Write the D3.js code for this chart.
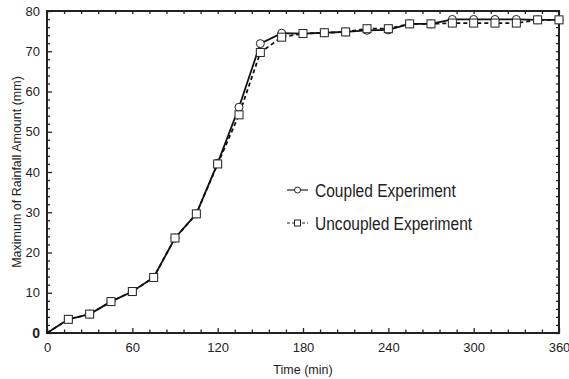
<!DOCTYPE html>
<html>
<head>
<meta charset="utf-8">
<script src="https://cdn.jsdelivr.net/npm/d3@7"></script>
<style>
  body { margin: 0; background: #fff; }
  .tick text { font-family: Arial, "Liberation Sans", sans-serif; font-size: 13px; fill: #222; }
  .label { font-family: Arial, "Liberation Sans", sans-serif; font-size: 12.5px; fill: #222; }
  .legend text { font-family: Arial, "Liberation Sans", sans-serif; font-size: 18.5px; fill: #222; }
</style>
</head>
<body>
<div class="plot"></div>
<script>
// time in minutes
let times = [0, 15, 30, 45, 60, 75, 90, 105, 120, 135, 150, 165, 180, 195, 210, 225, 240, 255, 270, 285, 300, 315, 330, 345, 360]
// maximum of rainfall amount (mm)
let coupled = [0, 3.4, 4.7, 7.8, 10.3, 13.8, 23.6, 29.6, 42.2, 56.1, 71.9, 74.5, 74.4, 74.6, 74.8, 75.2, 75.3, 76.8, 76.8, 77.9, 77.9, 77.9, 77.9, 77.8, 77.8]
let uncoupled = [0, 3.4, 4.7, 7.8, 10.3, 13.8, 23.6, 29.6, 42.0, 54.2, 69.7, 73.5, 74.4, 74.6, 74.8, 75.6, 75.6, 76.8, 76.8, 77.0, 77.0, 77.0, 77.0, 77.8, 77.8]
let xTicks = [0, 60, 120, 180, 240, 300, 360]
let yTicks = [0, 10, 20, 30, 40, 50, 60, 70, 80]
let seriesNames = ["Coupled Experiment", "Uncoupled Experiment"]

let width = 569, height = 379
let margin = {top: 11, right: 10, bottom: 46, left: 47}

let svg = d3.select(".plot")
            .append("svg")
            .attr("width", width)
            .attr("height", height)

let xScale = d3.scaleLinear()
      .domain([0, 360])
      .range([margin.left, width - margin.right])
let yScale = d3.scaleLinear()
      .domain([0, 80])
      .range([height - margin.bottom, margin.top])

let x0 = xScale(0), x1 = xScale(360), y0 = yScale(0), y1 = yScale(80)
let minorX = d3.range(0, 361, 12).filter(d => d % 60 != 0)
let minorY = d3.range(0, 81, 2).filter(d => d % 10 != 0)

// axes, all ticks pointing inward
function drawAxis(axis, tr, cls){
  svg.append("g")
     .attr("class", cls)
     .attr("transform", tr)
     .call(axis)
     .call(g => g.select(".domain").remove())
     .call(g => g.selectAll(".tick line").attr("stroke", "#222").attr("stroke-width", 1.3))
}
// bottom
drawAxis(d3.axisBottom(xScale).tickValues(xTicks).tickSizeInner(-5).tickSizeOuter(0).tickPadding(10).tickFormat(d3.format("d")), "translate(0," + y0 + ")", "xaxis")
drawAxis(d3.axisBottom(xScale).tickValues(minorX).tickSizeInner(-3.5).tickSizeOuter(0).tickFormat(""), "translate(0," + y0 + ")", "xminor")
// top
drawAxis(d3.axisTop(xScale).tickValues(d3.range(0, 361, 12)).tickSizeInner(-3).tickSizeOuter(0).tickFormat(""), "translate(0," + y1 + ")", "xtop")
// left
drawAxis(d3.axisLeft(yScale).tickValues(yTicks).tickSizeInner(-5).tickSizeOuter(0).tickPadding(7), "translate(" + x0 + ",0)", "yaxis")
drawAxis(d3.axisLeft(yScale).tickValues(minorY).tickSizeInner(-3).tickSizeOuter(0).tickFormat(""), "translate(" + x0 + ",0)", "yminor")
// right
drawAxis(d3.axisRight(yScale).tickValues(d3.range(0, 81, 2)).tickSizeInner(-3).tickSizeOuter(0).tickFormat(""), "translate(" + x1 + ",0)", "yright")

svg.selectAll(".yaxis .tick text")
   .filter(d => d == 0)
   .style("font-weight", "bold")
   .style("font-size", "14px")

// frame
svg.append("rect")
   .attr("x", x0)
   .attr("y", y1)
   .attr("width", x1 - x0)
   .attr("height", y0 - y1)
   .attr("fill", "none")
   .attr("stroke", "#222")
   .attr("stroke-width", 2)

// axis titles
svg.append("text")
   .attr("class", "label")
   .attr("x", (x0 + x1) / 2)
   .attr("y", 374)
   .style("text-anchor", "middle")
   .text("Time (min)")
svg.append("text")
   .attr("class", "label")
   .attr("transform", "translate(21," + ((y0 + y1) / 2) + ") rotate(-90)")
   .style("text-anchor", "middle")
   .text("Maximum of Rainfall Amount (mm)")

// lines
let data = [
  {name: seriesNames[0], values: times.map((t, i) => ({t: t, v: coupled[i]})), dash: null, shape: "circle"},
  {name: seriesNames[1], values: times.map((t, i) => ({t: t, v: uncoupled[i]})), dash: "4,3", shape: "square"}
]
let line = d3.line()
      .x(d => xScale(d.t))
      .y(d => yScale(d.v))

data.forEach(function(s){
  svg.append("path")
     .datum(s.values)
     .attr("d", line)
     .attr("fill", "none")
     .attr("stroke", "#111")
     .attr("stroke-width", 1.8)
     .attr("stroke-dasharray", s.dash)
})
data.forEach(function(s){
  let pts = s.values.filter(d => d.t > 0)
  if(s.shape == "circle"){
    svg.selectAll(".pc")
       .data(pts)
       .enter()
       .append("circle")
       .attr("cx", d => xScale(d.t))
       .attr("cy", d => yScale(d.v))
       .attr("r", 4)
       .attr("fill", "#fff")
       .attr("stroke", "#222")
       .attr("stroke-width", 1)
  } else {
    svg.selectAll(".ps")
       .data(pts)
       .enter()
       .append("rect")
       .attr("x", d => xScale(d.t) - 4)
       .attr("y", d => yScale(d.v) - 4)
       .attr("width", 8)
       .attr("height", 8)
       .attr("fill", "#fff")
       .attr("stroke", "#222")
       .attr("stroke-width", 1)
  }
})

// legend
let legend = svg.selectAll(".legend")
      .data(data)
      .enter()
      .append("g")
      .attr("class", "legend")
      .attr("transform", (d, i) => "translate(287," + (190 + i * 33) + ")")
legend.append("line")
      .attr("x1", 0)
      .attr("x2", 21)
      .attr("stroke", "#222")
      .attr("stroke-width", 1.2)
      .attr("stroke-dasharray", d => d.dash ? "3,2" : null)
legend.each(function(d){
  let g = d3.select(this)
  if(d.shape == "circle")
    g.append("circle").attr("cx", 10.5).attr("r", 3).attr("fill", "#fff").attr("stroke", "#222")
  else
    g.append("rect").attr("x", 7.5).attr("y", -3).attr("width", 6).attr("height", 6).attr("fill", "#fff").attr("stroke", "#222")
})
// narrow face imitation: squeeze horizontally
legend.append("text")
      .attr("transform", "translate(28,6.5) scale(0.84,1)")
      .text(d => d.name)
</script>
</body>
</html>
